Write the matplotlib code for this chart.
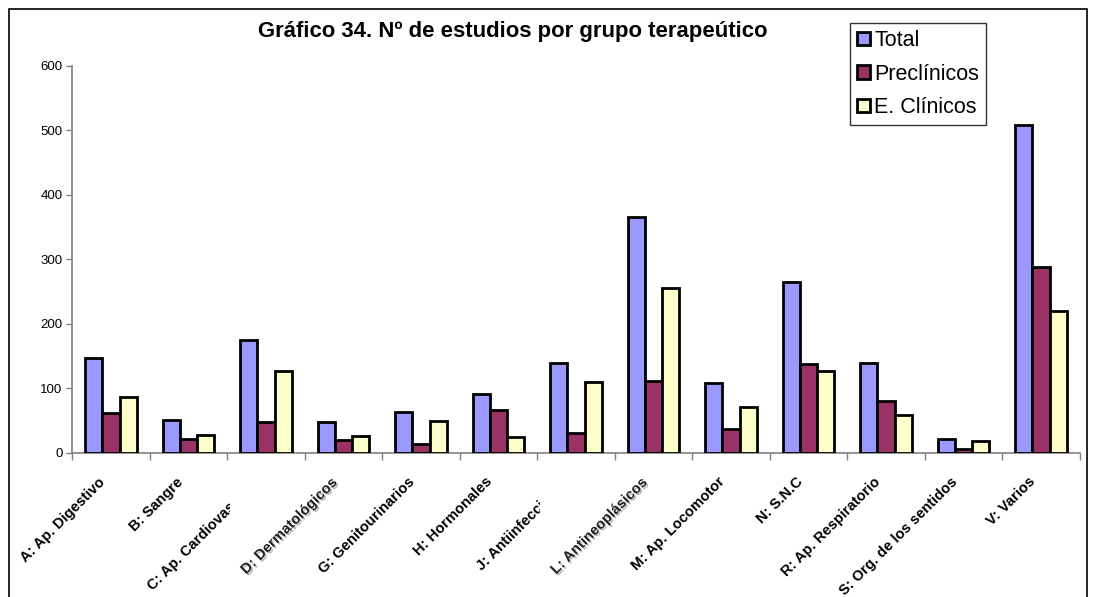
import matplotlib
matplotlib.use("Agg")
import matplotlib.pyplot as plt
import matplotlib.patheffects as pe
from matplotlib.patches import Rectangle
from matplotlib.transforms import Bbox, offset_copy
import numpy as np

plt.rcParams['font.family'] = ['Liberation Sans', 'DejaVu Sans']

grupos = ["A: Ap. Digestivo", "B: Sangre", "C: Ap. Cardiovascular", "D: Dermatológicos",
          "G: Genitourinarios", "H: Hormonales", "J: Antiinfecciosos", "L: Antineoplásicos",
          "M: Ap. Locomotor", "N: S.N.C", "R: Ap. Respiratorio", "S: Org. de los sentidos",
          "V: Varios"]
total = [147, 50, 174, 47, 63, 91, 139, 365, 108, 264, 139, 22, 508]
preclinicos = [62, 22, 48, 20, 14, 66, 31, 111, 37, 137, 80, 5, 288]
clinicos = [86, 28, 126, 26, 49, 25, 109, 255, 71, 127, 58, 18, 220]

series = [("Total", total, "#9999FF"),
          ("Preclínicos", preclinicos, "#993366"),
          ("E. Clínicos", clinicos, "#FFFFCC")]

# etiquetas que Excel recorta y las que salen con sombra
recortadas = {2, 6}
sombreadas = {3, 7}

fig = plt.figure(figsize=(10.96, 5.97), dpi=100)
ax = fig.add_axes([72.3 / 1096, 1 - 452.7 / 597, 1007.5 / 1096, 387 / 597])

x = np.arange(len(grupos))
w = 0.2222
for k, (nombre, vals, color) in enumerate(series):
    ax.bar(x + (k - 1) * w, vals, width=w, color=color, edgecolor="black",
           linewidth=2, label=nombre, zorder=3)

ax.set_xlim(-0.5, len(grupos) - 0.5)
ax.set_ylim(0, 600)
ax.set_yticks(range(0, 601, 100))
ax.tick_params(axis="y", length=4, width=1, color="#808080", labelsize=9.5, pad=3)
ax.set_xticks(np.arange(-0.5, len(grupos), 1))
ax.set_xticklabels([])
ax.tick_params(axis="x", length=5, width=1, color="#808080")
for lado in ("top", "right"):
    ax.spines[lado].set_visible(False)
for lado in ("left", "bottom"):
    ax.spines[lado].set_color("#808080")
    ax.spines[lado].set_linewidth(1.2)

# etiquetas de categoría giradas 45 grados
trans = offset_copy(ax.get_xaxis_transform(), fig=fig, x=-8, y=-27, units="dots")
for i, g in enumerate(grupos):
    t = ax.text(i, 0, g, transform=trans, rotation=45, rotation_mode="anchor",
                ha="right", va="center", fontsize=10.5, fontweight="bold",
                clip_on=False)
    if i in sombreadas:
        t.set_color("#222222")
        t.set_path_effects([pe.withSimplePatchShadow(offset=(1.2, -1.2),
                                                     shadow_rgbFace="0.6", alpha=0.7)])
    if i in recortadas:
        xc = ax.transData.transform((i - 0.5, 0))[0] + 3
        t.set_clip_box(Bbox.from_extents(0, 0, xc, 597))
        t.set_clip_on(True)

fig.text(513 / 1096, 1 - 32 / 597, "Gráfico 34. Nº de estudios por grupo terapeútico",
         ha="center", va="center", fontsize=15.9, fontweight="bold")

leg = ax.legend(loc="upper left", bbox_to_anchor=(850 / 1096, 1 - 23 / 597),
                bbox_transform=fig.transFigure, fontsize=15.5, frameon=True,
                fancybox=False, edgecolor="black", borderpad=0.33,
                handlelength=0.6, handleheight=0.6, handletextpad=0.2,
                labelspacing=0.58, borderaxespad=0)
leg.get_frame().set_linewidth(1.0)
for h in leg.legend_handles:
    h.set_linewidth(2)

# marco exterior del gráfico
fig.patches.append(Rectangle((8.5 / 1096, -0.05), (1087 - 8.5) / 1096, 1.05 - 9 / 597,
                             transform=fig.transFigure, fill=False,
                             edgecolor="black", linewidth=1.2))

fig.savefig("out.png", dpi=100)
